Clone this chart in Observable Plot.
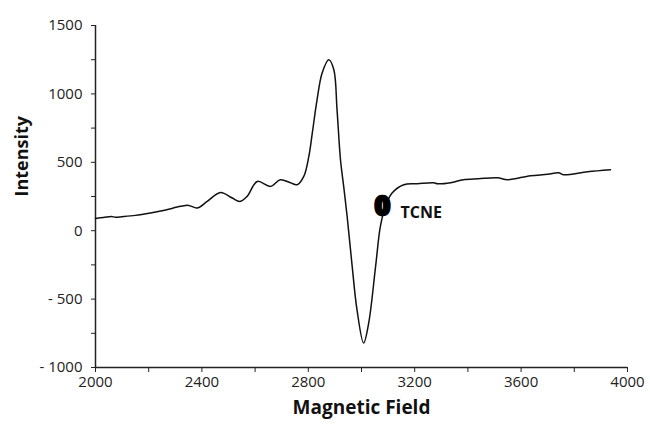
<!DOCTYPE html>
<html>
<head>
<meta charset="utf-8">
<script src="https://cdn.jsdelivr.net/npm/d3@7"></script>
<script src="https://cdn.jsdelivr.net/npm/@observablehq/plot@0.6"></script>
<style>
  body { margin: 0; background: #fff; }
  #chart svg { display: block; }
</style>
</head>
<body>
<div id="chart"></div>
<script>
const field = [2000, 2030, 2060, 2075, 2100, 2150, 2207, 2260, 2320, 2350, 2382, 2420, 2470, 2514, 2543, 2570, 2608, 2658, 2695, 2733, 2758, 2783, 2802, 2815, 2833, 2852, 2877, 2896, 2908, 2921, 2933, 2946, 2965, 2983, 3008, 3027, 3053, 3071, 3090, 3115, 3159, 3210, 3271, 3286, 3335, 3383, 3440, 3511, 3549, 3635, 3700, 3741, 3759, 3850, 3936];
const intensity = [90, 96, 104, 98, 102, 112, 130, 150, 178, 185, 166, 214, 280, 239, 214, 251, 360, 324, 373, 350, 336, 397, 543, 714, 958, 1153, 1250, 1177, 885, 519, 324, 105, -261, -577, -821, -675, -261, 31, 178, 275, 336, 343, 351, 343, 351, 373, 380, 387, 373, 402, 412, 424, 409, 431, 446];
const yTicks = [-1000, -750, -500, -250, 0, 250, 500, 750, 1000, 1250, 1500];
const xTicks = [2000, 2200, 2400, 2600, 2800, 3000, 3200, 3400, 3600, 3800, 4000];
const xLabels = [2000, 2400, 2800, 3200, 3600, 4000];
const annotation = [{field: 3147, intensity: 132, text: "TCNE"}];
const marker = [{field: 3079, intensity: 175, text: "0"}];

const spectrum = field.map((f, i) => ({field: f, intensity: intensity[i]}));

const chart = Plot.plot({
  width: 650,
  height: 425,
  marginLeft: 95,
  marginRight: 23,
  marginTop: 25,
  marginBottom: 58,
  style: {fontFamily: "'Open Sans', sans-serif", color: "#222", background: "#fff"},
  x: {domain: [2000, 4000]},
  y: {domain: [-1000, 1500]},
  marks: [
    Plot.axisY({ticks: yTicks, tickSize: 4, tickPadding: 9, fontSize: 15,
      tickFormat: d => d % 500 === 0 ? (d < 0 ? "- " + Math.abs(d) : String(d)) : "", label: null}),
    Plot.axisX({ticks: xTicks, tickSize: 5, tickPadding: 4, fontSize: 15,
      tickFormat: d => xLabels.includes(d) ? String(d) : "", label: null}),
    Plot.ruleX([2000], {stroke: "#222", strokeWidth: 1.5}),
    Plot.ruleY([-1000], {stroke: "#222", strokeWidth: 1.5}),
    Plot.line(spectrum, {x: "field", y: "intensity", stroke: "#111", strokeWidth: 1.5, curve: "catmull-rom"}),
    Plot.text(marker, {x: "field", y: "intensity", text: "text", fontSize: 27, fontWeight: 900, fill: "#000", stroke: "#000", strokeWidth: 2.5}),
    Plot.text(annotation, {x: "field", y: "intensity", text: "text", textAnchor: "start", fontSize: 16, fontWeight: "bold", fill: "#111"}),
    Plot.text(["Intensity"], {frameAnchor: "left", dx: -73, rotate: -90, fontSize: 18, fontWeight: "bold", fill: "#111"}),
    Plot.text(["Magnetic Field"], {frameAnchor: "bottom", dy: 46, fontSize: 19, fontWeight: "bold", fill: "#111"})
  ]
});
document.getElementById("chart").appendChild(chart);
</script>
</body>
</html>
